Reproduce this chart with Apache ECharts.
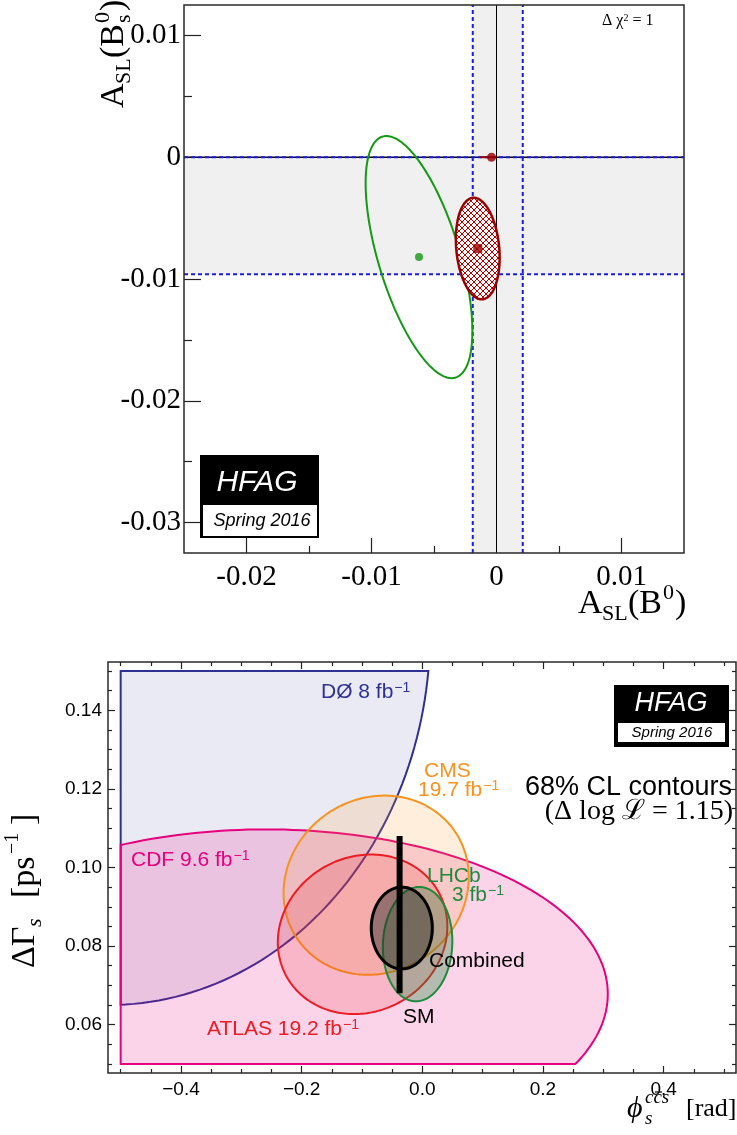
<!DOCTYPE html>
<html>
<head>
<meta charset="utf-8">
<script src="https://cdn.jsdelivr.net/npm/echarts@6/dist/echarts.min.js"></script>
<style>
html, body { margin: 0; padding: 0; background: #fff; }
#main { width: 737px; height: 1135px; }
</style>
</head>
<body>
<div id="main"></div>
<script>
// ---- top panel : A_SL(B0) vs A_SL(Bs) ----
var topXRange = [-0.025, 0.015];
var topYRange = [-0.0325, 0.0125];
var topXTicks = [-0.02, -0.01, 0, 0.01];
var topXMinor = [-0.015, -0.005, 0.005];
var topYTicks = [-0.03, -0.02, -0.01, 0, 0.01];
var topYMinor = [-0.025, -0.015, -0.005, 0.005];
var bandB0 = [-0.0019, 0.0021];      // vertical grey band
var bandBs = [-0.0096, 0.0000];      // horizontal grey band
var zeroLines = [0, 0];              // x = 0 and y = 0
var smPoint = [-0.0004, 0.0000];
var smErrX = [-0.0013, 0.0000];
var topEllipseCx = [-0.0062, -0.0015];
var topEllipseCy = [-0.0082, -0.0075];
var topEllipseSx = [0.00427, 0.00175];
var topEllipseSy = [0.00994, 0.00417];
var topEllipseRho = [-0.61, -0.18];

// ---- bottom panel : phi_s vs DeltaGamma_s ----
var botXRange = [-0.521, 0.52];
var botYRange = [0.0477, 0.1523];
var botXTicks = [-0.4, -0.2, 0, 0.2, 0.4];
var botXMinor = [-0.5, -0.45, -0.35, -0.3, -0.25, -0.15, -0.1, -0.05, 0.05, 0.1, 0.15, 0.25, 0.3, 0.35, 0.45, 0.5];
var botYTicks = [0.06, 0.08, 0.10, 0.12, 0.14];
var botYMinor = [0.05, 0.055, 0.065, 0.07, 0.075, 0.085, 0.09, 0.095, 0.105, 0.11, 0.115, 0.125, 0.13, 0.135, 0.145, 0.15];
var scanX = [-0.5, 0.5];
var scanY = [0.05, 0.15];
var contourNames = ['DØ 8 fb', 'CDF 9.6 fb', 'CMS 19.7 fb', 'ATLAS 19.2 fb', 'LHCb 3 fb', 'Combined'];
var contourCx = [-0.52, -0.259, -0.0765, -0.099, -0.0078, -0.034];
var contourCy = [0.160, 0.0678, 0.0955, 0.0830, 0.0805, 0.0846];
var contourSx = [0.533, 0.5665, 0.1535, 0.1405, 0.0576, 0.0506];
var contourSy = [0.095, 0.0419, 0.0228, 0.0203, 0.01455, 0.0104];
var contourRho = [0, 0, 0.09, 0.1, 0.05, 0];
var smPhi = -0.0376;
var smDeltaGamma = [0.068, 0.108];

var SANS = '"Liberation Sans", Arial, Helvetica, sans-serif';
var SERIF = '"Liberation Serif", "Times New Roman", "DejaVu Serif", serif';

var contourStyle = [
    { stroke: '#2e3192', fill: 'rgba(46,49,146,0.10)', lineWidth: 2 },
    { stroke: '#e6007e', fill: 'rgba(230,0,126,0.17)', lineWidth: 2 },
    { stroke: '#f7931e', fill: 'rgba(247,147,30,0.16)', lineWidth: 2 },
    { stroke: '#ec1c24', fill: 'rgba(236,28,36,0.17)', lineWidth: 2 },
    { stroke: '#1f8a3b', fill: 'rgba(31,138,59,0.32)', lineWidth: 2 },
    { stroke: '#000000', fill: 'rgba(40,40,40,0.45)', lineWidth: 3 }
];

function ellipseRing(cx, cy, sx, sy, rho) {
    var d = Math.acos(rho), pts = [];
    for (var i = 0; i < 240; i++) {
        var t = 2 * Math.PI * i / 240;
        pts.push([cx + sx * Math.cos(t), cy + sy * Math.cos(t - d)]);
    }
    return pts;
}

// clip a polygon against one side of the scan box
function clipSide(pts, inside, cross) {
    var out = [];
    for (var i = 0; i < pts.length; i++) {
        var cur = pts[i], prev = pts[(i + pts.length - 1) % pts.length];
        if (inside(cur)) {
            if (!inside(prev)) out.push(cross(prev, cur));
            out.push(cur);
        } else if (inside(prev)) {
            out.push(cross(prev, cur));
        }
    }
    return out;
}
function atX(k) { return function (p, q) { var t = (k - p[0]) / (q[0] - p[0]); return [k, p[1] + t * (q[1] - p[1])]; }; }
function atY(k) { return function (p, q) { var t = (k - p[1]) / (q[1] - p[1]); return [p[0] + t * (q[0] - p[0]), k]; }; }
function clipBox(pts) {
    pts = clipSide(pts, function (p) { return p[0] >= scanX[0]; }, atX(scanX[0]));
    pts = clipSide(pts, function (p) { return p[0] <= scanX[1]; }, atX(scanX[1]));
    pts = clipSide(pts, function (p) { return p[1] >= scanY[0]; }, atY(scanY[0]));
    pts = clipSide(pts, function (p) { return p[1] <= scanY[1]; }, atY(scanY[1]));
    return pts;
}

function makeHatch() {
    var c = document.createElement('canvas');
    c.width = 6; c.height = 6;
    var g = c.getContext('2d');
    g.fillStyle = '#fff';
    g.fillRect(0, 0, 6, 6);
    g.strokeStyle = '#b30000';
    g.lineWidth = 1;
    g.beginPath();
    g.moveTo(0, 0); g.lineTo(6, 6);
    g.moveTo(6, 0); g.lineTo(0, 6);
    g.stroke();
    return c;
}

function polySeries(xi, yi, ring, style) {
    return {
        type: 'custom', xAxisIndex: xi, yAxisIndex: yi, clip: true, silent: true,
        data: [[ring[0][0], ring[0][1]]],
        renderItem: function (params, api) {
            return {
                type: 'polygon',
                shape: { points: ring.map(function (p) { return api.coord(p); }) },
                style: style
            };
        }
    };
}

function tickAxis(grid, pos, range, ticks, len, label) {
    return {
        type: 'value', gridIndex: grid, position: pos, min: range[0], max: range[1],
        axisLine: { show: false, onZero: false }, splitLine: { show: false },
        axisTick: { show: true, inside: true, length: len, customValues: ticks, lineStyle: { color: '#222', width: 1.2 } },
        axisLabel: label ? Object.assign({ customValues: ticks }, label) : { show: false }
    };
}

function frameSeries(xi, yi, xr, yr) {
    return {
        type: 'custom', xAxisIndex: xi, yAxisIndex: yi, clip: false, silent: true, z: 20,
        data: [[xr[0], yr[0]]],
        renderItem: function (params, api) {
            var a = api.coord([xr[0], yr[1]]), b = api.coord([xr[1], yr[0]]);
            return { type: 'rect', shape: { x: a[0], y: a[1], width: b[0] - a[0], height: b[1] - a[1] },
                style: { fill: 'none', stroke: '#2a2a2a', lineWidth: 1.5 } };
        }
    };
}

function txt(x, y, text, size, family, color, extra) {
    var s = { x: x, y: y, text: text, fontSize: size, fontFamily: family, fill: color || '#000',
        align: 'left', verticalAlign: 'middle' };
    if (extra) Object.assign(s, extra);
    return { type: 'text', z: 100, style: s };
}

function fbLabel(x, y, main, color) {
    return {
        type: 'text', z: 100,
        style: {
            x: x, y: y, align: 'left', verticalAlign: 'middle',
            text: '{n|' + main + '}{s|\u22121}',
            rich: {
                n: { fontSize: 21, fontFamily: SANS, fill: color },
                s: { fontSize: 14, fontFamily: SANS, fill: color, verticalAlign: 'top', padding: [0, 0, 0, 1] }
            }
        }
    };
}

var hatch = makeHatch();
var series = [];

// top panel bands and lines
series.push({
    type: 'custom', xAxisIndex: 0, yAxisIndex: 0, clip: true, silent: true,
    data: [[0, 0]],
    renderItem: function (params, api) {
        var v1 = api.coord([bandB0[0], topYRange[1]]), v2 = api.coord([bandB0[1], topYRange[0]]);
        var h1 = api.coord([topXRange[0], bandBs[1]]), h2 = api.coord([topXRange[1], bandBs[0]]);
        var kids = [
            { type: 'rect', shape: { x: v1[0], y: v1[1], width: v2[0] - v1[0], height: v2[1] - v1[1] }, style: { fill: '#f0f0f0' } },
            { type: 'rect', shape: { x: h1[0], y: h1[1], width: h2[0] - h1[0], height: h2[1] - h1[1] }, style: { fill: '#f0f0f0' } }
        ];
        var zx1 = api.coord([zeroLines[0], topYRange[0]]), zx2 = api.coord([zeroLines[0], topYRange[1]]);
        var zy1 = api.coord([topXRange[0], zeroLines[1]]), zy2 = api.coord([topXRange[1], zeroLines[1]]);
        kids.push({ type: 'line', shape: { x1: zx1[0], y1: zx1[1], x2: zx2[0], y2: zx2[1] }, style: { stroke: '#000', lineWidth: 1 } });
        kids.push({ type: 'line', shape: { x1: zy1[0], y1: zy1[1], x2: zy2[0], y2: zy2[1] }, style: { stroke: '#000', lineWidth: 1.5 } });
        bandB0.forEach(function (v) {
            var a = api.coord([v, topYRange[0]]), b = api.coord([v, topYRange[1]]);
            kids.push({ type: 'line', shape: { x1: a[0], y1: a[1], x2: b[0], y2: b[1] }, style: { stroke: '#1a1ae6', lineWidth: 2, lineDash: [4, 3] } });
        });
        bandBs.forEach(function (v) {
            var a = api.coord([topXRange[0], v]), b = api.coord([topXRange[1], v]);
            kids.push({ type: 'line', shape: { x1: a[0], y1: a[1], x2: b[0], y2: b[1] }, style: { stroke: '#1a1ae6', lineWidth: 2, lineDash: [4, 3] } });
        });
        var e1 = api.coord([smErrX[0], smPoint[1]]), e2 = api.coord([smErrX[1], smPoint[1]]);
        kids.push({ type: 'line', shape: { x1: e1[0], y1: e1[1], x2: e2[0], y2: e2[1] }, style: { stroke: '#990000', lineWidth: 2 } });
        return { type: 'group', children: kids };
    }
});
series.push(polySeries(0, 0, ellipseRing(topEllipseCx[0], topEllipseCy[0], topEllipseSx[0], topEllipseSy[0], topEllipseRho[0]),
    { fill: 'none', stroke: '#139a13', lineWidth: 2 }));
series.push(polySeries(0, 0, ellipseRing(topEllipseCx[1], topEllipseCy[1], topEllipseSx[1], topEllipseSy[1], topEllipseRho[1]),
    { fill: { image: hatch, repeat: 'repeat' }, stroke: '#990000', lineWidth: 2.5 }));
series.push({ type: 'scatter', xAxisIndex: 0, yAxisIndex: 0, silent: true, symbol: 'circle', symbolSize: 8,
    itemStyle: { color: '#139a13' }, data: [[topEllipseCx[0], topEllipseCy[0]]] });
series.push({ type: 'scatter', xAxisIndex: 0, yAxisIndex: 0, silent: true, symbol: 'rect', symbolSize: 9,
    itemStyle: { color: '#990000' }, data: [[topEllipseCx[1], topEllipseCy[1]]] });
series.push({ type: 'scatter', xAxisIndex: 0, yAxisIndex: 0, silent: true, symbol: 'circle', symbolSize: 9,
    itemStyle: { color: '#990000' }, data: [smPoint] });
series.push(frameSeries(0, 0, topXRange, topYRange));

// bottom panel contours
for (var i = 0; i < contourNames.length; i++) {
    var ring = clipBox(ellipseRing(contourCx[i], contourCy[i], contourSx[i], contourSy[i], contourRho[i]));
    var s = polySeries(2, 2, ring, contourStyle[i]);
    s.name = contourNames[i];
    series.push(s);
}
series.push({
    type: 'custom', xAxisIndex: 2, yAxisIndex: 2, clip: true, silent: true,
    data: [[smPhi, smDeltaGamma[0]]],
    renderItem: function (params, api) {
        var a = api.coord([smPhi, smDeltaGamma[0]]), b = api.coord([smPhi, smDeltaGamma[1]]);
        return { type: 'line', shape: { x1: a[0], y1: a[1], x2: b[0], y2: b[1] }, style: { stroke: '#000', lineWidth: 6 } };
    }
});
series.push(frameSeries(2, 2, botXRange, botYRange));

var topLabel = { fontSize: 29, fontFamily: SERIF, color: '#000',
    formatter: function (v) { return String(+(+v).toFixed(3)); } };
var botXLabel = { fontSize: 19, fontFamily: SANS, color: '#000', margin: 7,
    formatter: function (v) { return v < 0 ? '\u2212' + (-v).toFixed(1) : (+v).toFixed(1); } };
var botYLabel = { fontSize: 19, fontFamily: SANS, color: '#000', margin: 6,
    formatter: function (v) { return (+v).toFixed(2); } };

var option = {
    animation: false,
    grid: [
        { left: 184, top: 5, width: 500, height: 548, show: false },
        { left: 108, top: 662, width: 628, height: 411, show: false }
    ],
    xAxis: [
        tickAxis(0, 'bottom', topXRange, topXTicks, 15, Object.assign({ margin: 10 }, topLabel)),
        tickAxis(0, 'bottom', topXRange, topXMinor, 7),
        tickAxis(1, 'bottom', botXRange, botXTicks, 7, botXLabel),
        tickAxis(1, 'bottom', botXRange, botXMinor, 4),
        tickAxis(1, 'top', botXRange, botXTicks, 7),
        tickAxis(1, 'top', botXRange, botXMinor, 4)
    ],
    yAxis: [
        tickAxis(0, 'left', topYRange, topYTicks, 17, Object.assign({ margin: 3 }, topLabel)),
        tickAxis(0, 'left', topYRange, topYMinor, 8),
        tickAxis(1, 'left', botYRange, botYTicks, 7, botYLabel),
        tickAxis(1, 'left', botYRange, botYMinor, 4),
        tickAxis(1, 'right', botYRange, botYTicks, 7),
        tickAxis(1, 'right', botYRange, botYMinor, 4)
    ],
    series: series,
    graphic: [
        // top panel texts
        { type: 'text', z: 100, style: { x: 602, y: 21, align: 'left', verticalAlign: 'middle',
            text: '{a|\u0394 \u03c7}{s|2}{a| = 1}',
            rich: { a: { fontSize: 16, fontFamily: SERIF, fill: '#000' },
                    s: { fontSize: 10, fontFamily: SERIF, fill: '#000', verticalAlign: 'top' } } } },
        { type: 'group', x: 578, y: 604, children: [
            txt(0, 0, 'A', 34, SERIF), txt(24, 10, 'SL', 22, SERIF), txt(50, 0, '(B', 34, SERIF),
            txt(85, -11, '0', 22, SERIF), txt(97, 0, ')', 34, SERIF)] },
        { type: 'group', x: 114, y: 108, rotation: Math.PI / 2, children: [
            txt(0, 0, 'A', 34, SERIF), txt(24, 10, 'SL', 22, SERIF), txt(50, 0, '(B', 34, SERIF),
            txt(85, 10, 's', 22, SERIF), txt(85, -11, '0', 22, SERIF), txt(97, 0, ')', 34, SERIF)] },
        { type: 'rect', z: 90, shape: { x: 200, y: 455, width: 119, height: 83 }, style: { fill: '#000' } },
        { type: 'rect', z: 91, shape: { x: 203, y: 505, width: 114, height: 31 }, style: { fill: '#fff' } },
        txt(257, 483, 'HFAG', 30, SANS, '#fff', { align: 'center', fontStyle: 'italic' }),
        txt(262, 521, 'Spring 2016', 18, SANS, '#000', { align: 'center', fontStyle: 'italic' }),

        // bottom panel texts
        fbLabel(321, 692, 'D\u00d8 8 fb', '#2e3192'),
        txt(424, 771, 'CMS', 21, SANS, '#f7931e'),
        fbLabel(418, 790, '19.7 fb', '#f7931e'),
        fbLabel(131, 860, 'CDF 9.6 fb', '#e6007e'),
        txt(427, 876, 'LHCb', 21, SANS, '#1f8a3b'),
        fbLabel(452, 895, '3 fb', '#1f8a3b'),
        txt(429, 961, 'Combined', 21, SANS, '#000'),
        txt(403, 1017, 'SM', 21, SANS, '#000'),
        fbLabel(207, 1029, 'ATLAS 19.2 fb', '#ec1c24'),
        txt(732, 788, '68% CL contours', 27, SANS, '#000', { align: 'right' }),
        txt(733, 812, '(\u0394 log \u2112 = 1.15)', 28, SERIF, '#000', { align: 'right' }),
        { type: 'rect', z: 90, shape: { x: 614, y: 685, width: 115, height: 62 }, style: { fill: '#000' } },
        { type: 'rect', z: 91, shape: { x: 618, y: 723, width: 107, height: 19 }, style: { fill: '#fff' } },
        txt(671, 703, 'HFAG', 27, SANS, '#fff', { align: 'center', fontStyle: 'italic' }),
        txt(672, 733, 'Spring 2016', 15, SANS, '#000', { align: 'center', fontStyle: 'italic' }),
        { type: 'group', x: 25, y: 968, rotation: Math.PI / 2, children: [
            txt(0, 0, '\u0394\u0393', 34, SERIF), txt(41, 10, 's', 22, SERIF, '#000', { fontStyle: 'italic' }),
            txt(70, 0, '[ps', 34, SERIF), txt(114, -12, '\u22121', 20, SERIF), txt(143, 0, ']', 34, SERIF)] },
        { type: 'group', x: 627, y: 1109, children: [
            txt(0, 0, '\u03d5', 30, SERIF, '#000', { fontStyle: 'italic' }),
            txt(18, -11, 'ccs', 19, SERIF, '#000', { fontStyle: 'italic' }),
            { type: 'line', z: 100, shape: { x1: 28, y1: -17, x2: 35, y2: -17 }, style: { stroke: '#000', lineWidth: 1.2 } },
            txt(18, 10, 's', 19, SERIF, '#000', { fontStyle: 'italic' }),
            txt(59, 0, '[rad]', 26, SERIF)] }
    ]
};

var myChart = echarts.init(document.getElementById('main'));
myChart.setOption(option, true);
</script>
</body>
</html>
